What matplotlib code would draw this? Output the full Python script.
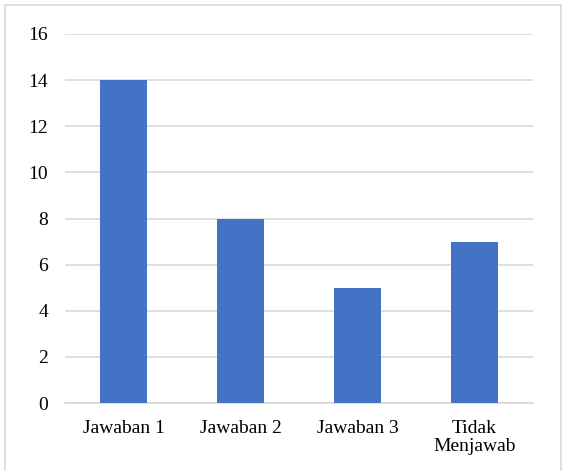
import matplotlib
matplotlib.use("Agg")
import matplotlib.pyplot as plt
from matplotlib.patches import Rectangle

categories = ["Jawaban 1", "Jawaban 2", "Jawaban 3", "Tidak\nMenjawab"]
values = [14, 8, 5, 7]
yticks = [0, 2, 4, 6, 8, 10, 12, 14, 16]

plt.rcParams['font.family'] = ['Liberation Serif', 'DejaVu Serif']

W, H = 563, 471
fig = plt.figure(figsize=(W / 100, H / 100), dpi=100)
ax = fig.add_axes([65 / W, 1 - 403 / H, (533 - 65) / W, (403 - 34) / H])

x = range(len(categories))
ax.bar(x, values, width=0.4, color='#4472C4', zorder=3)

ax.set_xlim(-0.5, len(categories) - 0.5)
ax.set_ylim(0, 16)
ax.set_yticks(yticks)
ax.set_xticks(list(x))
ax.set_xticklabels(categories, fontsize=14, linespacing=1.1)
ax.tick_params(axis='y', length=0, pad=12, labelsize=14)
ax.tick_params(axis='x', length=0, pad=12)
ax.yaxis.grid(True, color='#D9D9D9', linewidth=1.2, zorder=0)
ax.set_axisbelow(True)
for s in ['top', 'right', 'left']:
    ax.spines[s].set_visible(False)
ax.spines['bottom'].set_color('#D9D9D9')
ax.spines['bottom'].set_linewidth(1.2)

# light frame around the whole chart
fig.patches.append(Rectangle((4.5 / W, -0.05), (560.5 - 4.5) / W, 1.05 - 4.5 / H,
                             transform=fig.transFigure, fill=False,
                             edgecolor='#D9D9D9', linewidth=1.2))

fig.savefig("out.png", dpi=100)
